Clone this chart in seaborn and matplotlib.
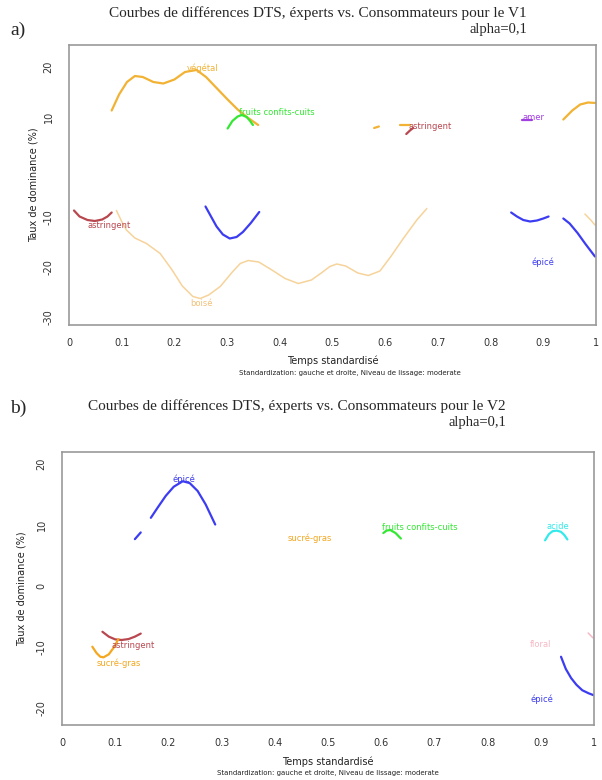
import matplotlib
matplotlib.use("Agg")
import matplotlib.pyplot as plt
import seaborn as sns
import pandas as pd

# ---------------- Data: V1 (panel a) ----------------
v1_vegetal_t = [0.081, 0.095, 0.11, 0.125, 0.14, 0.16, 0.179, 0.20, 0.22, 0.242, 0.26, 0.28, 0.30, 0.32, 0.34, 0.359]
v1_vegetal_v = [11.3, 14.5, 17.0, 18.2, 18.0, 17.0, 16.7, 17.5, 19.0, 19.4, 18.0, 15.8, 13.6, 11.5, 9.8, 8.4]
v1_vegetal2_t = [0.938, 0.955, 0.97, 0.985, 1.0]
v1_vegetal2_v = [9.5, 11.3, 12.5, 12.9, 12.8]
v1_vegetal3_t = [0.579, 0.588]
v1_vegetal3_v = [7.8, 8.1]
v1_vegetal4_t = [0.628, 0.647]
v1_vegetal4_v = [8.4, 8.4]
v1_fruits_t = [0.301, 0.31, 0.32, 0.328, 0.337, 0.343, 0.349]
v1_fruits_v = [7.7, 9.2, 10.1, 10.4, 10.0, 9.3, 8.4]
v1_astr_t = [0.0095, 0.02, 0.035, 0.049, 0.063, 0.073, 0.081]
v1_astr_v = [-8.7, -9.9, -10.6, -10.8, -10.5, -9.9, -9.1]
v1_astr2_t = [0.64, 0.647, 0.653]
v1_astr2_v = [6.6, 7.3, 7.8]
v1_boise_t = [0.090, 0.100, 0.109, 0.125, 0.147, 0.173, 0.195, 0.215, 0.235, 0.249, 0.265, 0.287,
              0.31, 0.325, 0.340, 0.36, 0.385, 0.41, 0.435, 0.46, 0.48, 0.495, 0.508, 0.525,
              0.548, 0.568, 0.59, 0.61, 0.635, 0.66, 0.679]
v1_boise_v = [-8.7, -10.9, -12.6, -14.2, -15.3, -17.3, -20.5, -23.8, -25.9, -26.3, -25.6, -23.9,
              -21.0, -19.3, -18.7, -19.0, -20.6, -22.3, -23.3, -22.6, -21.1, -19.9, -19.4, -19.8,
              -21.2, -21.7, -20.8, -18.0, -14.2, -10.6, -8.3]
v1_boise2_t = [0.979, 0.99, 0.998]
v1_boise2_v = [-9.4, -10.6, -11.6]
v1_epice_t = [0.259, 0.27, 0.28, 0.292, 0.305, 0.318, 0.33, 0.345, 0.361]
v1_epice_v = [-7.9, -10.0, -11.9, -13.5, -14.3, -14.0, -13.0, -11.2, -9.0]
v1_epice2_t = [0.839, 0.85, 0.862, 0.875, 0.888, 0.90, 0.910]
v1_epice2_v = [-9.1, -9.9, -10.6, -10.9, -10.7, -10.3, -9.9]
v1_epice3_t = [0.938, 0.95, 0.965, 0.98, 0.998]
v1_epice3_v = [-10.3, -11.3, -13.2, -15.4, -17.9]
v1_amer_t = [0.859, 0.878]
v1_amer_v = [9.3, 9.3]

v1_label_text = ["végétal", "fruits confits-cuits", "astringent", "boisé", "astringent", "amer", "épicé"]
v1_label_t = [0.254, 0.394, 0.077, 0.252, 0.685, 0.881, 0.900]
v1_label_v = [19.8, 10.9, -11.8, -27.3, 8.1, 9.9, -19.1]

# ---------------- Data: V2 (panel b) ----------------
v2_epice_t = [0.167, 0.18, 0.195, 0.21, 0.227, 0.24, 0.255, 0.27, 0.288]
v2_epice_v = [11.2, 12.9, 14.8, 16.3, 17.2, 16.9, 15.6, 13.4, 10.1]
v2_epice2_t = [0.137, 0.148]
v2_epice2_v = [7.7, 8.8]
v2_epice3_t = [0.938, 0.947, 0.957, 0.967, 0.978, 0.99, 0.999]
v2_epice3_v = [-11.6, -13.6, -15.1, -16.2, -17.1, -17.6, -17.9]
v2_astr_t = [0.076, 0.088, 0.1, 0.112, 0.125, 0.137, 0.148]
v2_astr_v = [-7.5, -8.3, -8.75, -8.85, -8.7, -8.3, -7.8]
v2_sucre_t = [0.057, 0.065, 0.072, 0.078, 0.088, 0.098, 0.106]
v2_sucre_v = [-9.95, -11.0, -11.6, -11.7, -11.2, -10.0, -8.7]
v2_fruits_t = [0.604, 0.61, 0.617, 0.627, 0.637]
v2_fruits_v = [8.7, 9.1, 9.2, 8.7, 7.8]
v2_acide_t = [0.908, 0.915, 0.922, 0.930, 0.938, 0.944, 0.950]
v2_acide_v = [7.5, 8.5, 9.0, 9.1, 8.9, 8.4, 7.65]
v2_floral_t = [0.989, 0.998]
v2_floral_v = [-7.7, -8.5]

v2_label_text = ["épicé", "sucré-gras", "fruits confits-cuits", "acide", "astringent", "sucré-gras", "floral", "épicé"]
v2_label_t = [0.23, 0.466, 0.673, 0.932, 0.134, 0.106, 0.900, 0.902]
v2_label_v = [17.5, 7.8, 9.6, 9.7, -9.8, -12.6, -9.6, -18.6]

x_ticks = [0, 0.1, 0.2, 0.3, 0.4, 0.5, 0.6, 0.7, 0.8, 0.9, 1]
x_ticklabels = ["0", "0.1", "0.2", "0.3", "0.4", "0.5", "0.6", "0.7", "0.8", "0.9", "1"]
v1_yticks = [-30, -20, -10, 0, 10, 20]
v1_yticklabels = ["-30", "-20", "-10", "", "10", "20"]
v2_yticks = [-20, -10, 0, 10, 20]
v2_yticklabels = ["-20", "-10", "0", "10", "20"]

# ---------------- Style ----------------
sns.set_style("white")
plt.rcParams["font.family"] = ["DejaVu Sans"]

C_VEG = "#F2B233"
C_BOISE = "#F6D39A"
C_EPICE = "#3C3CF2"
C_FRUITS = "#33E833"
C_ASTR = "#B9474F"
C_AMER = "#A23FE0"
C_ACIDE = "#33EAEA"
C_FLORAL = "#F7B9C6"
C_SUCRE = "#F4A71F"

label_colors_v1 = [C_VEG, C_FRUITS, C_ASTR, "#F2C07A", C_ASTR, C_AMER, C_EPICE]
label_colors_v2 = [C_EPICE, C_SUCRE, C_FRUITS, C_ACIDE, C_ASTR, C_SUCRE, C_FLORAL, C_EPICE]

fig = plt.figure(figsize=(6.02, 7.8), dpi=100)
W, H = 602.0, 780.0


def px_axes(x0, y0, x1, y1):
    return fig.add_axes([x0 / W, 1 - y1 / H, (x1 - x0) / W, (y1 - y0) / H])


def draw(ax, t, v, color, lw=1.6):
    df = pd.DataFrame({"t": t, "v": v})
    sns.lineplot(data=df, x="t", y="v", ax=ax, color=color, lw=lw,
                 sort=False, estimator=None)


def style_axes(ax, yticks, yticklabels, ylim, ylabelpad):
    ax.set_xlim(0, 1)
    ax.set_ylim(*ylim)
    ax.set_xticks(x_ticks)
    ax.set_xticklabels(x_ticklabels)
    ax.set_yticks(yticks)
    ax.set_yticklabels(yticklabels, rotation=90, va="center")
    for s in ax.spines.values():
        s.set_color("#999999")
        s.set_linewidth(1.2)
    ax.tick_params(axis="both", direction="out", length=4, width=1,
                   color="#888888", labelcolor="#333333", labelsize=7)
    ax.tick_params(axis="x", pad=5)
    ax.tick_params(axis="y", pad=7)
    ax.set_xlabel("")
    ax.set_ylabel("Taux de dominance (%)", fontsize=7, color="#222222", labelpad=ylabelpad)


# ---------------- Panel a ----------------
ax1 = px_axes(69, 45, 596, 325)
draw(ax1, v1_boise_t, v1_boise_v, C_BOISE, 1.1)
draw(ax1, v1_boise2_t, v1_boise2_v, C_BOISE, 1.1)
draw(ax1, v1_vegetal_t, v1_vegetal_v, C_VEG)
draw(ax1, v1_vegetal2_t, v1_vegetal2_v, C_VEG)
draw(ax1, v1_vegetal3_t, v1_vegetal3_v, C_VEG)
draw(ax1, v1_vegetal4_t, v1_vegetal4_v, C_VEG)
draw(ax1, v1_fruits_t, v1_fruits_v, C_FRUITS)
draw(ax1, v1_astr_t, v1_astr_v, C_ASTR)
draw(ax1, v1_astr2_t, v1_astr2_v, C_ASTR)
draw(ax1, v1_epice_t, v1_epice_v, C_EPICE)
draw(ax1, v1_epice2_t, v1_epice2_v, C_EPICE)
draw(ax1, v1_epice3_t, v1_epice3_v, C_EPICE)
draw(ax1, v1_amer_t, v1_amer_v, C_AMER)
for txt, t, v, c in zip(v1_label_text, v1_label_t, v1_label_v, label_colors_v1):
    ax1.text(t, v, txt, color=c, fontsize=6, ha="center", va="center")
style_axes(ax1, v1_yticks, v1_yticklabels, (-31.6, 24.4), 4)

# ---------------- Panel b ----------------
ax2 = px_axes(62, 452, 594, 725)
draw(ax2, v2_epice_t, v2_epice_v, C_EPICE)
draw(ax2, v2_epice2_t, v2_epice2_v, C_EPICE)
draw(ax2, v2_epice3_t, v2_epice3_v, C_EPICE)
draw(ax2, v2_astr_t, v2_astr_v, C_ASTR)
draw(ax2, v2_sucre_t, v2_sucre_v, C_SUCRE)
draw(ax2, v2_fruits_t, v2_fruits_v, C_FRUITS)
draw(ax2, v2_acide_t, v2_acide_v, C_ACIDE)
draw(ax2, v2_floral_t, v2_floral_v, C_FLORAL, 1.1)
for txt, t, v, c in zip(v2_label_text, v2_label_t, v2_label_v, label_colors_v2):
    ax2.text(t, v, txt, color=c, fontsize=6, ha="center", va="center")
style_axes(ax2, v2_yticks, v2_yticklabels, (-22.8, 22.0), 7)

# ---------------- Figure texts ----------------
serif = ["Liberation Serif", "DejaVu Serif"]
fig.text(10 / W, 1 - 30 / H, "a)", family=serif, fontsize=14, va="center", ha="left")
fig.text(527 / W, 1 - 13 / H, "Courbes de différences DTS, éxperts vs. Consommateurs pour le V1",
         family=serif, fontsize=11, ha="right", va="center")
fig.text(527 / W, 1 - 30 / H, "alpha=0,1", family=serif, fontsize=10.5, ha="right", va="center")
fig.text(333 / W, 1 - 361 / H, "Temps standardisé", fontsize=7, ha="center", va="center", color="#222222")
fig.text(350 / W, 1 - 373 / H, "Standardization: gauche et droite, Niveau de lissage: moderate",
         fontsize=5, ha="center", va="center", color="#222222")

fig.text(10 / W, 1 - 408 / H, "b)", family=serif, fontsize=14, va="center", ha="left")
fig.text(506 / W, 1 - 406 / H, "Courbes de différences DTS, éxperts vs. Consommateurs pour le V2",
         family=serif, fontsize=11, ha="right", va="center")
fig.text(506 / W, 1 - 423 / H, "alpha=0,1", family=serif, fontsize=10.5, ha="right", va="center")
fig.text(328 / W, 1 - 762 / H, "Temps standardisé", fontsize=7, ha="center", va="center", color="#222222")
fig.text(328 / W, 1 - 773 / H, "Standardization: gauche et droite, Niveau de lissage: moderate",
         fontsize=5, ha="center", va="center", color="#222222")

fig.savefig("out.png", dpi=100, facecolor="white")
